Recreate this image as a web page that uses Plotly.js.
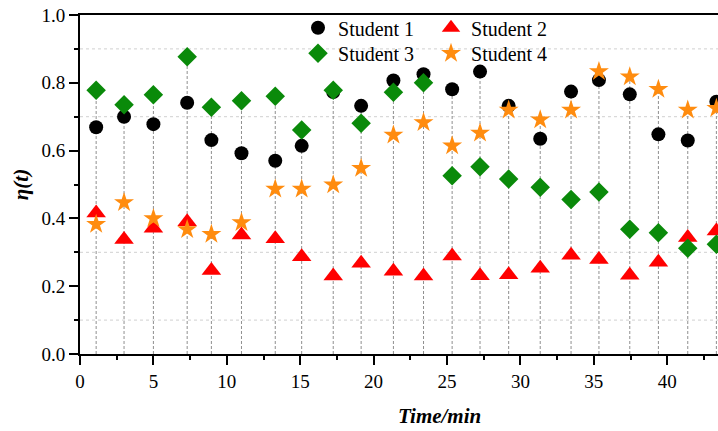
<!DOCTYPE html>
<html>
<head>
<meta charset="utf-8">
<script src="https://cdn.plot.ly/plotly-3.0.1.min.js"></script>
<style>html,body{margin:0;padding:0;background:#fff;overflow:hidden}</style>
</head>
<body>
<div id="chart" style="width:718px;height:431px"></div>
<script>
const time = [1.1, 3.0, 5.0, 7.3, 8.95, 11.0, 13.3, 15.1, 17.25, 19.15, 21.35, 23.4, 25.35, 27.25, 29.2, 31.35, 33.45, 35.35, 37.45, 39.4, 41.4, 43.35];
const student1 = [0.669, 0.700, 0.678, 0.741, 0.631, 0.592, 0.570, 0.614, 0.773, 0.732, 0.807, 0.825, 0.781, 0.833, 0.732, 0.635, 0.774, 0.808, 0.766, 0.648, 0.630, 0.744];
const student2 = [0.416, 0.338, 0.371, 0.390, 0.246, 0.351, 0.340, 0.287, 0.230, 0.268, 0.244, 0.230, 0.289, 0.231, 0.234, 0.253, 0.291, 0.279, 0.232, 0.271, 0.344, 0.363];
const student3 = [0.778, 0.735, 0.765, 0.877, 0.728, 0.747, 0.760, 0.661, 0.778, 0.681, 0.772, 0.800, 0.526, 0.552, 0.516, 0.492, 0.456, 0.478, 0.368, 0.358, 0.312, 0.324];
const student4 = [0.383, 0.447, 0.400, 0.367, 0.353, 0.388, 0.487, 0.487, 0.499, 0.548, 0.646, 0.683, 0.614, 0.652, 0.720, 0.691, 0.720, 0.833, 0.818, 0.781, 0.720, 0.725];
const seriesNames = ['Student 1', 'Student 2', 'Student 3', 'Student 4'];
const gridValues = [0.1, 0.3, 0.7, 0.9];
const xTicks = [0, 5, 10, 15, 20, 25, 30, 35, 40];
const yTicks = [0.0, 0.2, 0.4, 0.6, 0.8, 1.0];

const FONT = '"Liberation Serif", "Times New Roman", Times, serif';

// drop lines from each time point's highest value down to 0
const dropX = [], dropY = [];
time.forEach((t, i) => {
  const m = Math.max(student1[i], student2[i], student3[i], student4[i]);
  dropX.push(t, t, null);
  dropY.push(0, m, null);
});

const traces = [
  {x: dropX, y: dropY, mode: 'lines', line: {color: '#8f8f8f', width: 1, dash: '3px,2px'}, hoverinfo: 'skip', showlegend: false},
  {x: time, y: student1, name: seriesNames[0], mode: 'markers', legend: 'legend',
   marker: {symbol: 'circle', size: 14, color: '#000000'}},
  {x: time, y: student2, name: seriesNames[1], mode: 'markers', legend: 'legend',
   marker: {symbol: 'triangle-up', size: 17, color: '#ff0000'}},
  {x: time, y: student3, name: seriesNames[2], mode: 'markers', legend: 'legend2',
   marker: {symbol: 'diamond', size: 15, color: '#0a8a0a'}},
  {x: time, y: student4, name: seriesNames[3], mode: 'markers', legend: 'legend2',
   marker: {symbol: 'star', size: 15, color: '#ff8c0f'}}
];

const shapes = gridValues.map(v => ({
  type: 'line', xref: 'paper', x0: 0, x1: 1, yref: 'y', y0: v, y1: v,
  line: {color: '#d0d0d0', width: 1, dash: 'dot'}, layer: 'below'
}));

const legendCommon = {
  orientation: 'h', xanchor: 'left', yanchor: 'top',
  bgcolor: 'rgba(0,0,0,0)', borderwidth: 0,
  font: {family: FONT, size: 20, color: '#000'},
  entrywidth: 88, entrywidthmode: 'pixels', itemsizing: 'trace', tracegroupgap: 0
};

const layout = {
  width: 718, height: 431,
  margin: {l: 80, r: 0, t: 15, b: 77},
  paper_bgcolor: '#fff', plot_bgcolor: '#fff',
  showlegend: true,
  font: {family: FONT, size: 18, color: '#000'},
  xaxis: {
    range: [0, 43.46], tickvals: xTicks, ticktext: xTicks.map(String),
    ticks: 'outside', ticklen: 9, tickwidth: 2, tickcolor: '#000',
    showline: true, linewidth: 2, linecolor: '#000', mirror: true,
    showgrid: false, zeroline: false,
    tickfont: {family: FONT, size: 19, color: '#000'},
    minor: {dtick: 2.5, tick0: 0, ticks: 'outside', ticklen: 4, tickwidth: 2, tickcolor: '#000', showgrid: false}
  },
  yaxis: {
    range: [0, 1.0], tickvals: yTicks, ticktext: yTicks.map(v => v.toFixed(1)),
    ticks: 'outside', ticklen: 9, tickwidth: 2, tickcolor: '#000',
    showline: true, linewidth: 2, linecolor: '#000',
    showgrid: false, zeroline: false,
    tickfont: {family: FONT, size: 19, color: '#000'},
    title: {text: '<b><i>η(t)</i></b>', font: {family: FONT, size: 21, color: '#000'}, standoff: 7},
    minor: {dtick: 0.1, tick0: 0, ticks: 'outside', ticklen: 4, tickwidth: 2, tickcolor: '#000', showgrid: false}
  },
  legend: Object.assign({x: 0.3417, y: 1.02}, legendCommon),
  legend2: Object.assign({x: 0.3417, y: 0.945}, legendCommon),
  shapes: shapes,
  annotations: [{
    text: '<b><i>Time/min</i></b>', xref: 'x', x: 24.5, yref: 'paper', y: -0.183,
    xanchor: 'center', yanchor: 'middle', showarrow: false,
    font: {family: FONT, size: 21, color: '#000'}
  }]
};

Plotly.newPlot('chart', traces, layout, {displayModeBar: false, staticPlot: true});
</script>
</body>
</html>
